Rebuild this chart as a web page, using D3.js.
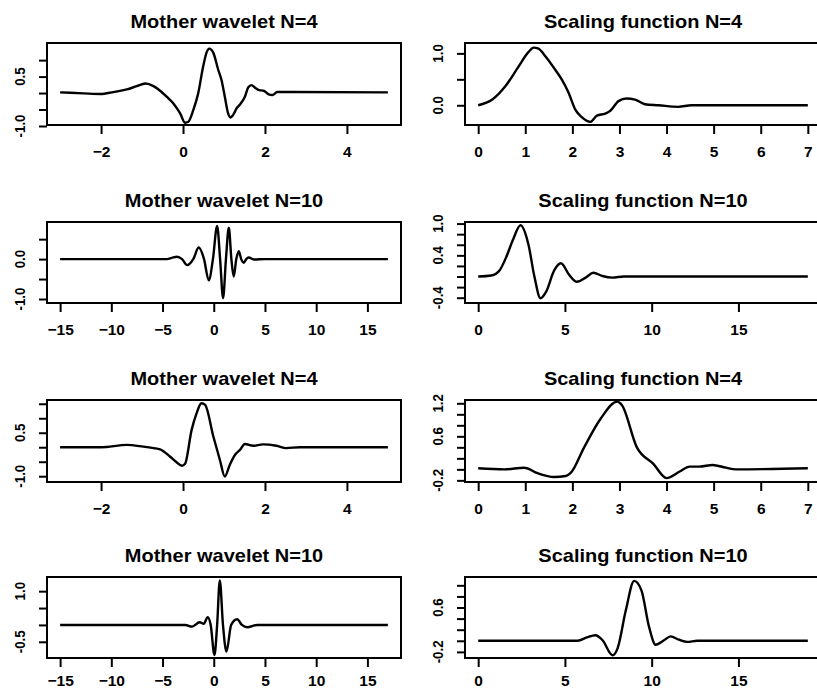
<!DOCTYPE html>
<html>
<head>
<meta charset="utf-8">
<script src="https://cdn.jsdelivr.net/npm/d3@7"></script>
<style>
  body { margin: 0; background: #fff; }
  svg text { font-family: "Liberation Sans", Arial, sans-serif; font-weight: bold; fill: #000; }
</style>
</head>
<body>
<svg id="chart" width="817" height="689"></svg>
<script>
// Panel titles
var titles = ["Mother wavelet N=4", "Scaling function N=4",
  "Mother wavelet N=10", "Scaling function N=10",
  "Mother wavelet N=4", "Scaling function N=4",
  "Mother wavelet N=10", "Scaling function N=10"]

// Curves as [x, y]
var mother4a = [[-3,0.02],[-2.42,-0.01],[-2.02,-0.03],[-1.7,0.03],[-1.37,0.11],[-1.13,0.21],[-0.92,0.29],
  [-0.72,0.21],[-0.56,0.07],[-0.4,-0.11],[-0.24,-0.31],[-0.07,-0.62],[0.05,-0.9],[0.13,-0.87],[0.25,-0.52],
  [0.37,-0.01],[0.49,0.8],[0.58,1.25],[0.64,1.35],[0.74,1.22],[0.86,0.7],[0.94,0.39],[1.02,-0.11],[1.1,-0.62],
  [1.16,-0.74],[1.22,-0.67],[1.31,-0.46],[1.4,-0.33],[1.51,-0.11],[1.59,0.17],[1.67,0.24],[1.75,0.17],[1.86,0.09],
  [1.97,0.07],[2.08,-0.03],[2.18,-0.06],[2.3,0.03],[2.68,0.03],[5,0.02]]

var scaling4a = [[0,0],[0.3,0.11],[0.58,0.37],[0.86,0.75],[1.07,1.03],[1.18,1.11],[1.28,1.09],[1.43,0.94],
  [1.64,0.68],[1.78,0.49],[1.92,0.24],[2.06,-0.08],[2.2,-0.23],[2.38,-0.32],[2.52,-0.2],[2.7,-0.16],[2.8,-0.11],
  [2.98,0.08],[3.15,0.13],[3.33,0.11],[3.54,0.02],[3.83,0],[4.25,-0.03],[4.53,0],[7,0]]

var mother10a = [[-15,0],[-6,0],[-4.56,0],[-4.1,0.03],[-3.58,0.06],[-3.1,0],[-2.6,-0.15],[-2.0,0],[-1.47,0.29],
  [-0.95,0],[-0.49,-0.53],[-0.08,0],[0.33,0.83],[0.62,0],[0.91,-0.98],[1.19,0],[1.47,0.79],[1.72,0],[1.95,-0.44],
  [2.2,0],[2.44,0.2],[2.68,0],[2.93,-0.09],[3.17,0],[3.42,0.04],[3.91,-0.01],[5,0],[17,0]]

var scaling10a = [[0,0],[0.76,0.02],[1.24,0.12],[1.62,0.37],[2.0,0.69],[2.44,0.97],[2.9,0.6],[3.24,0],
  [3.59,-0.41],[3.91,-0.29],[4.39,0.12],[4.77,0.25],[5.25,0.03],[5.69,-0.1],[6.2,-0.02],[6.64,0.07],[7.16,0.01],
  [7.73,-0.02],[8.4,0],[19,0]]

var mother4b = [[-3,0],[-2,0],[-1.37,0.08],[-0.97,0.02],[-0.72,-0.03],[-0.56,-0.07],[-0.32,-0.32],[-0.15,-0.53],
  [-0.03,-0.64],[0.05,-0.57],[0.21,0.6],[0.33,1.17],[0.45,1.52],[0.54,1.46],[0.74,0.37],[0.9,-0.44],[1.02,-1.01],
  [1.14,-0.61],[1.27,-0.26],[1.39,-0.09],[1.51,0.11],[1.71,0.05],[1.95,0.1],[2.28,0.05],[2.52,-0.03],[2.85,0],[5,0]]

var scaling4b = [[0,0.02],[0.56,0],[0.98,0.03],[1.26,-0.07],[1.61,-0.14],[1.86,-0.12],[1.97,-0.06],[2.25,0.4],
  [2.6,0.92],[2.95,1.23],[3.05,1.17],[3.37,0.4],[3.72,0.1],[4.0,-0.16],[4.28,-0.04],[4.49,0.05],[4.7,0.05],
  [4.98,0.08],[5.26,0.03],[5.47,0],[7,0.02]]

var mother10b = [[-15,0],[-2.77,0],[-2.12,-0.05],[-1.37,0.08],[-0.98,0.03],[-0.59,0.23],[-0.3,0],[0.07,-0.89],
  [0.33,0],[0.59,1.32],[0.9,0],[1.24,-0.79],[1.7,0],[2.28,0.17],[2.75,0],[3.26,-0.07],[4.23,0],[17,0]]

var scaling10b = [[0,0],[5.73,0],[6.27,0.06],[6.75,0.1],[7.17,0.01],[7.74,-0.26],[8.03,-0.14],[8.51,0.55],
  [8.99,1.08],[9.41,0.91],[9.85,0.25],[10.23,-0.07],[10.71,0.01],[11.09,0.08],[11.57,0.02],[12.05,-0.02],
  [12.62,0],[19,0]]

// Tick values
var xTicksWave4 = [-2, 0, 2, 4]
var xTicksWave10 = [-15, -10, -5, 0, 5, 10, 15]
var xTicksScale4 = [0, 1, 2, 3, 4, 5, 6, 7]
var xTicksScale10 = [0, 5, 10, 15]

var yTicks1 = [-1.0, -0.5, 0, 0.5, 1.0], yLabels1 = [-1.0, 0.5]
var yTicks2 = [0, 0.5, 1.0], yLabels2 = [0, 1.0]
var yTicks3 = [-1.0, -0.5, 0, 0.5], yLabels3 = [-1.0, 0]
var yTicks4 = [-0.4, -0.2, 0, 0.2, 0.4, 0.6, 0.8, 1.0], yLabels4 = [-0.4, 0.4, 1.0]
var yTicks5 = [-1.0, -0.5, 0, 0.5, 1.0, 1.5], yLabels5 = [-1.0, 0.5]
var yTicks6 = [-0.2, 0, 0.2, 0.4, 0.6, 0.8, 1.0, 1.2], yLabels6 = [-0.2, 0.6, 1.2]
var yTicks7 = [-0.5, 0, 0.5, 1.0], yLabels7 = [-0.5, 1.0]
var yTicks8 = [-0.2, 0, 0.2, 0.4, 0.6, 0.8, 1.0], yLabels8 = [-0.2, 0.6]

// Layout
var colX = [[47, 401], [465, 821]]
var rowY = [[43, 125], [222, 303], [400, 482], [577, 658]]
var labelPad = [12, 12, 12, 8]

var panels = [
  {data: mother4a, xd: [-3.32, 5.32], yd: [-0.97, 1.52], xt: xTicksWave4, yt: yTicks1, yl: yLabels1},
  {data: scaling4a, xd: [-0.28, 7.28], yd: [-0.38, 1.2], xt: xTicksScale4, yt: yTicks2, yl: yLabels2},
  {data: mother10a, xd: [-16.28, 18.28], yd: [-1.1, 0.93], xt: xTicksWave10, yt: yTicks3, yl: yLabels3},
  {data: scaling10a, xd: [-0.76, 19.76], yd: [-0.5, 1.03], xt: xTicksScale10, yt: yTicks4, yl: yLabels4},
  {data: mother4b, xd: [-3.32, 5.32], yd: [-1.2, 1.63], xt: xTicksWave4, yt: yTicks5, yl: yLabels5},
  {data: scaling4b, xd: [-0.28, 7.28], yd: [-0.23, 1.26], xt: xTicksScale4, yt: yTicks6, yl: yLabels6},
  {data: mother10b, xd: [-16.28, 18.28], yd: [-0.98, 1.42], xt: xTicksWave10, yt: yTicks7, yl: yLabels7},
  {data: scaling10b, xd: [-0.76, 19.76], yd: [-0.31, 1.15], xt: xTicksScale10, yt: yTicks8, yl: yLabels8}
]

var svg = d3.select("#chart")

// y labels use one decimal, like R
function fmtY(d) {
  return d3.format(".1f")(d).replace("\u2212", "-")
}

panels.forEach(function(p, i) {
  var col = i % 2, row = Math.floor(i / 2)
  var x0 = colX[col][0], x1 = colX[col][1]
  var yTop = rowY[row][0], yBot = rowY[row][1]

  var x = d3.scaleLinear().domain(p.xd).range([x0, x1])
  var y = d3.scaleLinear().domain(p.yd).range([yBot, yTop])

  var g = svg.append("g")

  // Title
  g.append("text")
    .attr("transform", "translate(" + ((x0 + x1) / 2) + "," + (yTop - 21) + ") scale(1,0.9)")
    .attr("dy", "0.36em")
    .attr("text-anchor", "middle")
    .style("font-size", "20px")
    .text(titles[i])

  // x axis
  g.append("g")
    .attr("transform", "translate(0," + yBot + ")")
    .call(d3.axisBottom(x).tickValues(p.xt).tickSize(9).tickPadding(labelPad[row])
      .tickFormat(function(d) { return String(d).replace("-", "\u2212") }))
    .call(function(a) {
      a.select(".domain").remove()
      a.selectAll("line").attr("stroke", "#000").attr("stroke-width", 2)
      a.selectAll("text").attr("fill", "#000").style("font-size", "15.5px")
        .style("font-family", "'Liberation Sans', Arial, sans-serif").style("font-weight", "bold")
    })

  // y axis
  g.append("g")
    .attr("transform", "translate(" + x0 + ",0)")
    .call(d3.axisLeft(y).tickValues(p.yt).tickSize(8).tickFormat(""))
    .call(function(a) {
      a.select(".domain").remove()
      a.selectAll("line").attr("stroke", "#000").attr("stroke-width", 2)
    })

  g.selectAll(".ylab")
    .data(p.yl)
    .enter()
    .append("text")
    .attr("transform", function(d) {
      return "translate(" + (x0 - 28) + "," + y(d) + ") rotate(-90) scale(0.86,1)"
    })
    .attr("dy", "0.36em")
    .attr("text-anchor", "middle")
    .style("font-size", "15.5px")
    .text(fmtY)

  // Curve
  g.append("path")
    .datum(p.data)
    .attr("fill", "none")
    .attr("stroke", "#000")
    .attr("stroke-width", 2.4)
    .attr("stroke-linejoin", "round")
    .attr("d", d3.line()
      .x(function(d) { return x(d[0]) })
      .y(function(d) { return y(d[1]) })
      .curve(d3.curveMonotoneX))

  // Box
  g.append("rect")
    .attr("x", x0).attr("y", yTop)
    .attr("width", x1 - x0).attr("height", yBot - yTop)
    .attr("fill", "none")
    .attr("stroke", "#000")
    .attr("stroke-width", 2)
})
</script>
</body>
</html>
